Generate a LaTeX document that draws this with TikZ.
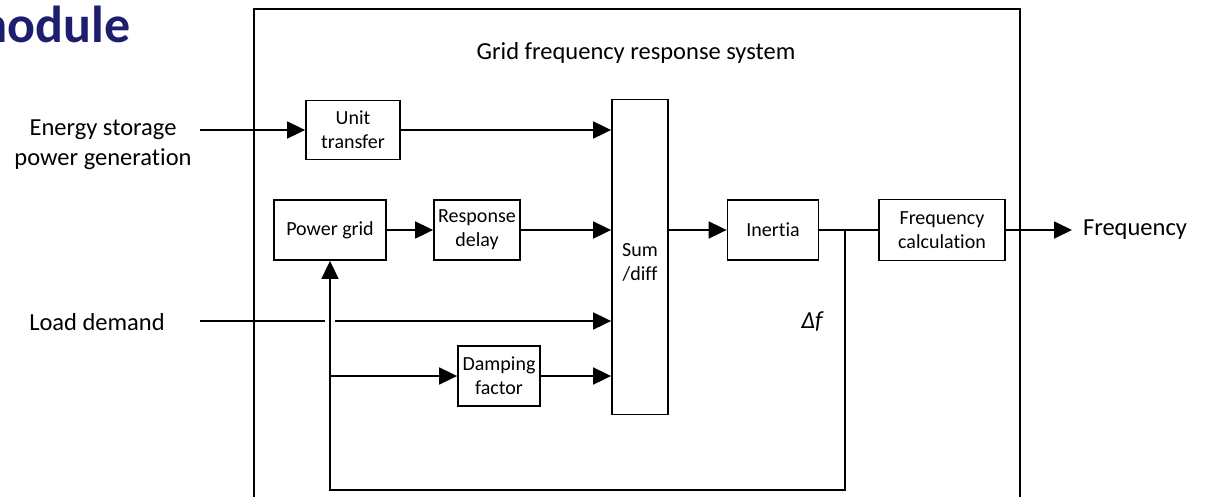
\documentclass[tikz,border=0pt]{standalone}
\usepackage{fontspec}
\setmainfont{Carlito}[Ligatures={NoCommon,NoContextual}]
\definecolor{titlenavy}{RGB}{30,30,110}
\usetikzlibrary{arrows.meta,positioning}
\tikzset{blk/.style={draw,line width=1.8pt,align=center,inner sep=0pt,font=\fontsize{20}{24}\selectfont},
  sig/.style={line width=1.8pt,-{Triangle[length=18pt,width=17pt]}},
  wire/.style={line width=1.8pt},
  lbl/.style={align=center,font=\fontsize{24.5}{30}\selectfont}}

\begin{document}
\begin{tikzpicture}[x=1pt,y=-1pt]
\useasboundingbox (0,0) rectangle (1207,496);
\node[anchor=base west,titlenavy,font=\fontsize{52}{60}\selectfont\bfseries] (heading) at (-38,42) {module};
\draw[wire] (254,500) -- (254,9) -- (1020,9) -- (1020,500);
\node[lbl] (sysname) at (636,53) {Grid frequency response system};
\node[blk,minimum width=94,minimum height=59] (unit) at (353,130) {Unit\\transfer};
\node[blk,minimum width=56,minimum height=315] (sum) at (640,257) {\\Sum\\/diff};
\node[blk,minimum width=112,minimum height=60] (grid) at (330,230) {Power grid};
\node[blk,minimum width=86,minimum height=60] (delay) at (477,230) {Response\\delay};
\node[blk,minimum width=91,minimum height=60] (inertia) at (773,230) {Inertia};
\node[blk,minimum width=126,minimum height=61] (freqcalc) at (942,230) {Frequency\\calculation};
\node[blk,minimum width=82,minimum height=60] (damping) at (499,376) {Damping\\factor};
\node[lbl] (esgen) at (103,145) {Energy storage\\power generation};
\node[lbl] (load) at (97,322) {Load demand};
\node[lbl] (freq) at (1135,230) {Frequency};
\node[lbl,font=\fontsize{24.5}{30}\selectfont\itshape] (df) at (812,322) {Δf};
\coordinate (esin) at (200,130);
\coordinate (loadin) at (200,321);
\coordinate (hopa) at (325,321);
\coordinate (hopb) at (335,321);
\coordinate (tap) at (845,230);
\coordinate (branch) at (330,376);
\coordinate (freqout) at (1072,230);
\draw[sig] (esin) -- (unit.west);
\draw[sig] (unit.east) -- (sum.west |- unit.east);
\draw[sig] (grid) -- (delay);
\draw[sig] (delay.east) -- (sum.west |- delay.east);
\draw[wire] (loadin) -- (hopa);
\draw[sig] (hopb) -- (sum.west |- hopb);
\draw[sig] (damping.east) -- (sum.west |- damping.east);
\draw[sig] (sum.east |- inertia.west) -- (inertia.west);
\draw[wire] (inertia.east) -- (freqcalc.west);
\draw[sig] (freqcalc.east) -- (freqout);
\draw[sig] (tap) -- (845,490) -- (330,490) -- (grid.south);
\draw[sig] (branch) -- (damping.west);
\end{tikzpicture}
\end{document}
